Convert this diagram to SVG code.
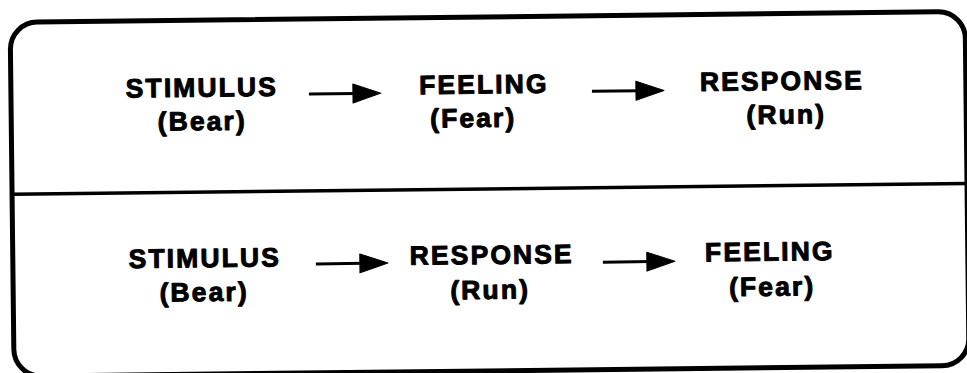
<svg xmlns="http://www.w3.org/2000/svg" width="967" height="373" viewBox="0 0 967 373">
  <style>
    .frame { fill: none; stroke: #000; stroke-width: 5; }
    .divider { stroke: #000; stroke-width: 3.5; }
    .label { font-family: "Liberation Sans", Arial, Helvetica, sans-serif; font-weight: bold; font-size: 26.5px; letter-spacing: 2.1px; fill: #000; stroke: #000; stroke-width: 1; stroke-linejoin: round; text-anchor: middle; }
    .shaft { stroke: #000; stroke-width: 3; }
    .head { fill: #000; stroke: #000; stroke-width: 1; stroke-linejoin: round; }
  </style>
  <defs>
    <g id="arrow">
      <line class="shaft" x1="0" y1="0" x2="48" y2="0"/>
      <polygon class="head" points="44,-9.5 72,0 44,9.5"/>
    </g>
  </defs>
  <rect width="967" height="373" fill="#fff"/>
  <g transform="rotate(-0.65 483 186)">
    <!-- outer frame and the line splitting the two sequences -->
    <rect class="frame" x="12" y="17" width="955" height="354" rx="27" ry="27"/>
    <line class="divider" x1="12" y1="189" x2="967" y2="189"/>

    <!-- upper sequence: stimulus, feeling, response -->
    <g id="top-stimulus">
      <text class="label" x="203" y="93.5">STIMULUS</text>
      <text class="label" x="203" y="127">(Bear)</text>
    </g>
    <g id="top-feeling">
      <text class="label" x="485" y="93.5">FEELING</text>
      <text class="label" x="474" y="127">(Fear)</text>
    </g>
    <g id="top-response">
      <text class="label" x="783" y="93.5">RESPONSE</text>
      <text class="label" x="787" y="127">(Run)</text>
    </g>

    <!-- lower sequence: stimulus, response, feeling -->
    <g id="bottom-stimulus">
      <text class="label" x="204" y="264">STIMULUS</text>
      <text class="label" x="203" y="298">(Bear)</text>
    </g>
    <g id="bottom-response">
      <text class="label" x="491" y="264">RESPONSE</text>
      <text class="label" x="489" y="299">(Run)</text>
    </g>
    <g id="bottom-feeling">
      <text class="label" x="769" y="264">FEELING</text>
      <text class="label" x="771" y="299">(Fear)</text>
    </g>

    <g id="connectors">
      <use href="#arrow" x="310" y="92"/>
      <use href="#arrow" x="593" y="92.5"/>
      <use href="#arrow" x="315" y="262"/>
      <use href="#arrow" x="602" y="263.5"/>
    </g>
  </g>
</svg>
